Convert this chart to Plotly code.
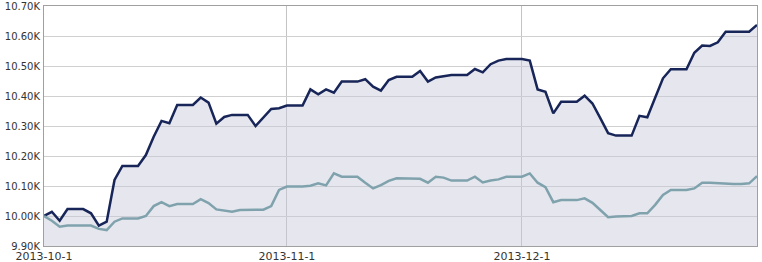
import pandas as pd
import plotly.graph_objects as go

dates = pd.date_range("2013-10-01", "2013-12-31", freq="D")

fund = [
    10000, 10014, 9984, 10023, 10023, 10023, 10009, 9968, 9981, 10120,
    10167, 10167, 10167, 10203, 10264, 10317, 10309, 10370, 10370, 10370,
    10395, 10378, 10308, 10330, 10337, 10337, 10337, 10300, 10329, 10357,
    10359, 10368, 10368, 10368, 10422, 10406, 10422, 10411, 10448, 10448,
    10448, 10456, 10431, 10418, 10453, 10464, 10464, 10464, 10483, 10448,
    10462, 10467, 10470, 10470, 10470, 10490, 10479, 10506, 10518, 10523,
    10523, 10523, 10518, 10422, 10414, 10342, 10381, 10381, 10381, 10401,
    10375, 10326, 10276, 10268, 10268, 10268, 10334, 10329, 10394, 10459,
    10489, 10489, 10489, 10544, 10568, 10567, 10579, 10614, 10614, 10614,
    10614, 10637,
]

bench = [
    10000, 9984, 9964, 9968, 9968, 9968, 9968, 9957, 9953, 9981,
    9992, 9992, 9992, 10000, 10033, 10046, 10033, 10040, 10040, 10040,
    10056, 10043, 10022, 10017, 10014, 10020, 10020, 10020, 10021, 10033,
    10087, 10098, 10098, 10098, 10101, 10109, 10102, 10142, 10131, 10131,
    10131, 10111, 10092, 10103, 10117, 10126, 10126, 10126, 10124, 10111,
    10131, 10128, 10118, 10118, 10118, 10131, 10112, 10118, 10122, 10131,
    10131, 10131, 10142, 10111, 10096, 10046, 10053, 10053, 10053, 10059,
    10044, 10020, 9996, 9998, 9999, 10000, 10009, 10009, 10037, 10070,
    10087, 10087, 10087, 10092, 10111, 10111, 10109, 10107, 10107, 10107,
    10109, 10133,
]

y_ticks = [9900, 10000, 10100, 10200, 10300, 10400, 10500, 10600, 10700]
y_labels = ["9.90K", "10.00K", "10.10K", "10.20K", "10.30K", "10.40K",
            "10.50K", "10.60K", "10.70K"]
x_ticks = ["2013-10-01", "2013-11-01", "2013-12-01"]
x_labels = ["2013-10-1", "2013-11-1", "2013-12-1"]

fig = go.Figure()
fig.add_trace(go.Scatter(
    x=dates, y=fund, mode="lines", fill="tozeroy",
    fillcolor="rgba(200,202,218,0.45)",
    line=dict(color="#172558", width=2.5),
    hoverinfo="skip", showlegend=False,
))
fig.add_trace(go.Scatter(
    x=dates, y=bench, mode="lines",
    line=dict(color="#7fa2ad", width=2.5),
    hoverinfo="skip", showlegend=False,
))

font = dict(family="DejaVu Sans, Verdana, sans-serif", size=11, color="#333333")
yfont = dict(family="DejaVu Sans, Verdana, sans-serif", size=10, color="#333333")

fig.update_layout(
    width=762, height=262,
    margin=dict(l=44, r=5, t=6, b=16, autoexpand=False),
    paper_bgcolor="white", plot_bgcolor="white",
    font=font,
    xaxis=dict(
        type="date", range=["2013-10-01", "2013-12-31"],
        tickvals=x_ticks, ticktext=x_labels, ticks="",
        showgrid=True, gridcolor="#c4c4c4", gridwidth=1,
        showline=True, linecolor="#a0a0a0", linewidth=1, mirror=True,
        zeroline=False, automargin=False, tickfont=font,
    ),
    yaxis=dict(
        range=[9900, 10700],
        tickvals=y_ticks, ticktext=y_labels, ticks="",
        showgrid=True, gridcolor="#d0d0d0", gridwidth=1,
        showline=True, linecolor="#a0a0a0", linewidth=1, mirror=True,
        zeroline=False, automargin=False, tickfont=yfont, ticklabelstandoff=1,
    ),
)

fig.write_html("out.html")
